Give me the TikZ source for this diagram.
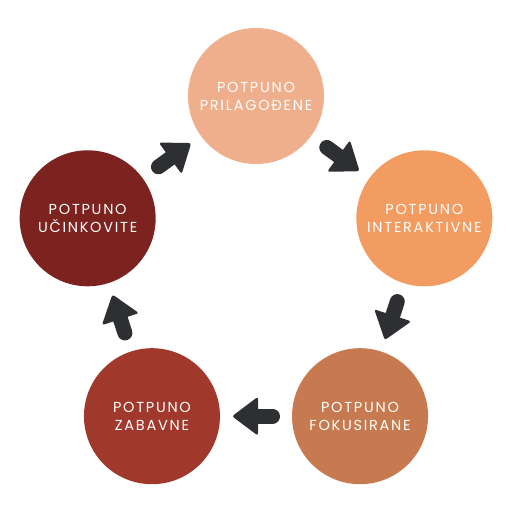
\documentclass[tikz,border=0pt]{standalone}
\usepackage{fontspec}
\setmainfont[LetterSpace=12]{Poppins}
\usetikzlibrary{calc}
\definecolor{cA}{HTML}{EFAF8C}
\definecolor{cB}{HTML}{F29C61}
\definecolor{cC}{HTML}{C77A50}
\definecolor{cD}{HTML}{A0392C}
\definecolor{cE}{HTML}{7C2320}
\definecolor{arrowc}{HTML}{2E2F33}
\tikzset{
  stage/.style={circle, minimum size=136pt, inner sep=0pt, text=white, align=center,
    font=\fontsize{14.5}{18}\selectfont},
  blockarrow/.pic={
    \fill[arrowc, rounded corners=2.5pt] (24,0) -- (-2,19.5) -- (-2,-19.5) -- cycle;
    \draw[arrowc, line width=15pt, line cap=round] (-16.5,0) -- (0,0);
  }
}
\begin{document}
\begin{tikzpicture}[x=1pt,y=1pt]
\useasboundingbox (0,0) rectangle (512,512);
\def\R{177}
\coordinate (c) at (256,239);
\node[stage, fill=cA] (n1) at ($(c)+(90:\R)$) {POTPUNO\\PRILAGOĐENE};
\node[stage, fill=cB] (n2) at ($(c)+(18:\R)$) {POTPUNO\\INTERAKTIVNE};
\node[stage, fill=cC] (n3) at ($(c)+(-54:\R)$) {POTPUNO\\FOKUSIRANE};
\node[stage, fill=cD] (n4) at ($(c)+(-126:\R)$) {POTPUNO\\ZABAVNE};
\node[stage, fill=cE] (n5) at ($(c)+(162:\R)$) {POTPUNO\\UČINKOVITE};
\foreach \a/\b in {n1/n2,n2/n3,n3/n4,n4/n5,n5/n1}{
  \path let \p1=($(\b)-(\a)$), \n1={atan2(\y1,\x1)} in
    ($(\a)!0.5!(\b)$) pic[rotate=\n1] {blockarrow};
}
\end{tikzpicture}
\end{document}
